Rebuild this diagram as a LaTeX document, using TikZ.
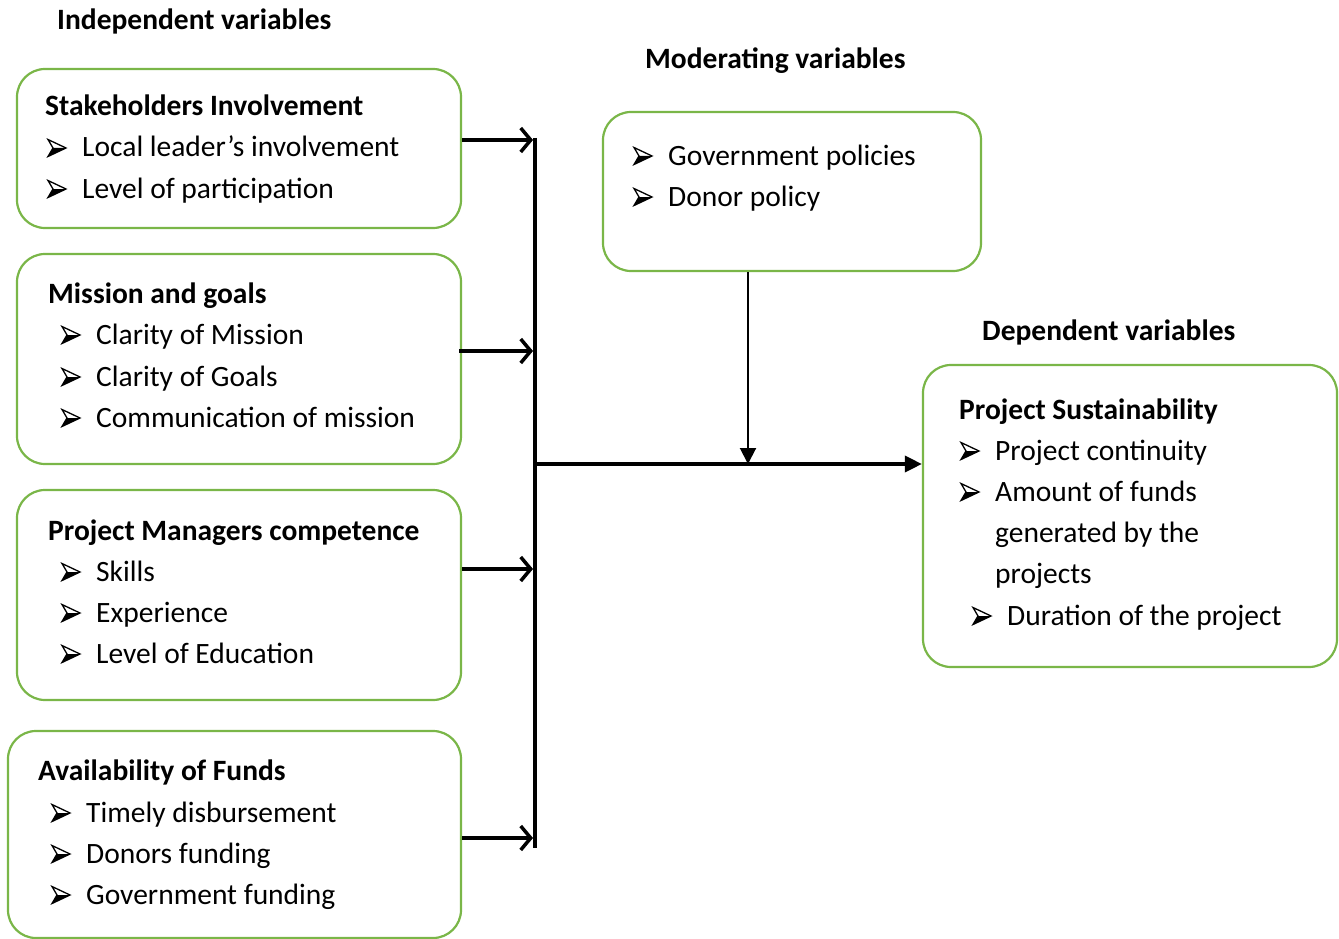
\documentclass[tikz,border=0pt]{standalone}
\usepackage{fontspec}
\setmainfont{Carlito}
\usetikzlibrary{arrows.meta}
\definecolor{boxgreen}{RGB}{122,182,72}
\begin{document}
\begin{tikzpicture}[x=1pt,y=-1pt,
  box/.style={draw=boxgreen, line width=2.2pt, rounded corners=28pt, inner sep=0pt},
  txt/.style={anchor=base west, inner sep=0pt, font=\fontsize{29.5}{34}\selectfont},
  head/.style={anchor=base west, inner sep=0pt, font=\fontsize{29.5}{34}\selectfont\bfseries},
  feed/.style={line width=3.5pt, -{Straight Barb[length=10pt,width=24pt,line width=3.5pt]}},
  mainline/.style={line width=3.5pt, -{Triangle[length=17pt,width=16pt]}},
  modline/.style={line width=2pt, -{Triangle[length=16pt,width=16pt]}},
  bul/.pic={
    \fill (5,0) -- (18,0) -- (0,8.5) -- cycle;
    \draw[line width=1.3pt, line join=miter] (0,-8.5) -- (18,0) -- (0,8.5) -- (5,0) -- cycle;
  }
]
\useasboundingbox (0,0) rectangle (1339,939);

% group titles
\node[head] (tind) at (57,30) {Independent variables};
\node[head] (tmod) at (645,69) {Moderating variables};
\node[head] (tdep) at (982,340) {Dependent variables};

% independent variable boxes
\node[box, minimum width=444pt, minimum height=159pt] (b1) at (239,148.5) {};
\node[box, minimum width=444pt, minimum height=210pt] (b2) at (239,359) {};
\node[box, minimum width=444pt, minimum height=210pt] (b3) at (239,595) {};
\node[box, minimum width=453pt, minimum height=207pt] (b4) at (234.5,834.5) {};

% moderating and dependent boxes
\node[box, minimum width=378pt, minimum height=159pt] (bm) at (792,191.5) {};
\node[box, minimum width=414pt, minimum height=302pt] (bd) at (1130,516) {};

% Stakeholders Involvement
\node[head] (h1) at (45,116) {Stakeholders Involvement};
\pic at (48,148) {bul};
\node[txt] (i11) at (82,157) {Local leader’s involvement};
\pic at (48,189) {bul};
\node[txt] (i12) at (82,198) {Level of participation};

% Mission and goals
\node[head] (h2) at (48,303) {Mission and goals};
\pic at (62,335) {bul};
\node[txt] (i21) at (96,344) {Clarity of Mission};
\pic at (62,377) {bul};
\node[txt] (i22) at (96,386) {Clarity of Goals};
\pic at (62,418) {bul};
\node[txt] (i23) at (96,427) {Communication of mission};

% Project Managers competence
\node[head] (h3) at (48,540) {Project Managers competence};
\pic at (62,572) {bul};
\node[txt] (i31) at (96,581) {Skills};
\pic at (62,613) {bul};
\node[txt] (i32) at (96,622) {Experience};
\pic at (62,654) {bul};
\node[txt] (i33) at (96,663) {Level of Education};

% Availability of Funds
\node[head] (h4) at (38,780) {Availability of Funds};
\pic at (52,813) {bul};
\node[txt] (i41) at (86,822) {Timely disbursement};
\pic at (52,854) {bul};
\node[txt] (i42) at (86,863) {Donors funding};
\pic at (52,895) {bul};
\node[txt] (i43) at (86,904) {Government funding};

% Moderating variables
\pic at (634,156) {bul};
\node[txt] (m1) at (668,165) {Government policies};
\pic at (634,197) {bul};
\node[txt] (m2) at (668,206) {Donor policy};

% Dependent variables
\node[head] (hd) at (959,419) {Project Sustainability};
\pic at (961,451) {bul};
\node[txt] (d1) at (995,460) {Project continuity};
\pic at (961,492) {bul};
\node[txt] (d2) at (995,501) {Amount of funds};
\node[txt] (d2b) at (995,542) {generated by the};
\node[txt] (d2c) at (995,583) {projects};
\pic at (973,616) {bul};
\node[txt] (d3) at (1007,625) {Duration of the project};

% collecting bus
\coordinate (bt) at (535,138);
\coordinate (bb) at (535,848);
\coordinate (j1) at (533,140);
\coordinate (j2) at (533,351);
\coordinate (j3) at (533,569);
\coordinate (j4) at (533,838);
\coordinate (hub) at (535,464);
\coordinate (mid) at (748,464);

\draw[line width=3.5pt] (bt) -- (bb);
\draw[feed] (b1.east |- j1) -- (j1);
\draw[feed] ([xshift=-3pt]b2.east |- j2) -- (j2);
\draw[feed] (b3.east |- j3) -- (j3);
\draw[feed] (b4.east |- j4) -- (j4);
\draw[mainline] (hub) -- (bd.west |- hub);
\draw[modline] (mid |- bm.south) -- (mid);
\end{tikzpicture}
\end{document}
